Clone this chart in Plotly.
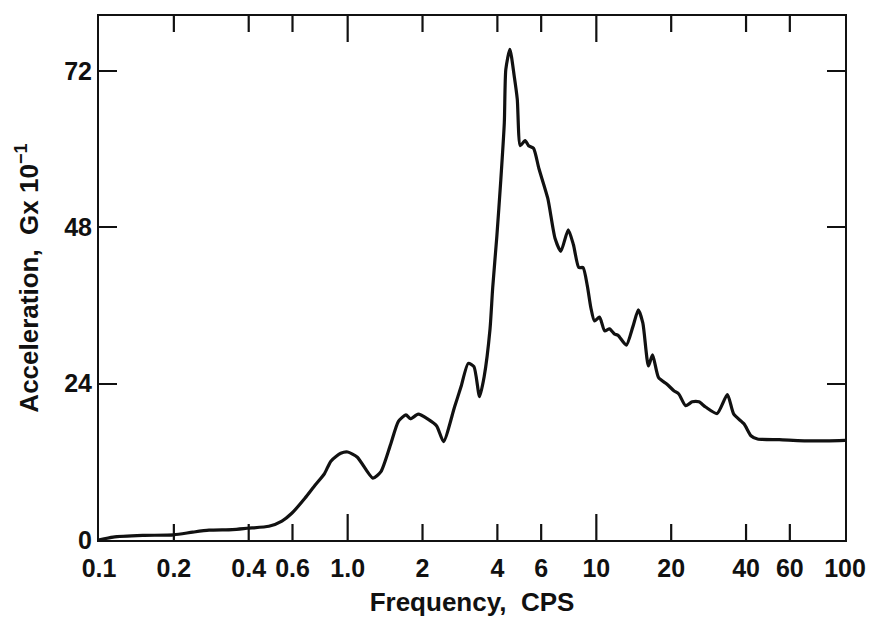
import plotly.graph_objects as go

# Acceleration response spectrum (G x 10^-1) versus frequency (CPS)
frequency = [0.1, 0.114, 0.15, 0.2, 0.238, 0.277, 0.344, 0.394, 0.482, 0.544,
             0.596, 0.673, 0.739, 0.807, 0.856, 0.938, 1.0, 1.094, 1.262, 1.361,
             1.486, 1.60, 1.716, 1.79, 1.922, 2.11, 2.28, 2.43, 2.69, 2.856,
             3.055, 3.22, 3.39, 3.54, 3.735, 3.83, 3.98, 4.13, 4.265, 4.325,
             4.49, 4.674, 4.81, 4.945, 5.17, 5.34, 5.59, 5.875, 6.38, 6.82,
             7.2, 7.71, 8.09, 8.5, 8.84, 9.2, 9.51, 9.83, 10.3, 10.8,
             11.3, 11.85, 12.23, 13.2, 14.02, 14.75, 15.38, 16.2, 16.83, 17.8,
             19.24, 20.5, 21.46, 22.86, 24.3, 25.85, 27.5, 30.6, 33.65, 35.7,
             39.3, 41.85, 44.5, 54.4, 74, 100]
acceleration = [0.0, 0.45, 0.7, 0.8, 1.2, 1.5, 1.6, 1.8, 2.1, 2.9,
                4.1, 6.4, 8.4, 10.2, 12.1, 13.3, 13.5, 12.7, 9.5, 10.5,
                14.6, 18.2, 19.2, 18.6, 19.3, 18.5, 17.5, 15.1, 20.4, 23.5,
                27.1, 26.6, 22.0, 25.1, 32.3, 38.7, 46.6, 55.3, 64.0, 72.2,
                75.3, 71.2, 67.6, 60.5, 61.3, 60.5, 60.1, 57.0, 52.4, 46.3,
                44.3, 47.6, 45.3, 41.8, 41.8, 39.0, 35.6, 33.6, 34.2, 32.1,
                32.4, 31.6, 31.4, 29.9, 32.7, 35.3, 33.3, 26.7, 28.4, 24.9,
                23.9, 22.9, 22.4, 20.6, 21.2, 21.2, 20.4, 19.4, 22.3, 19.3,
                17.8, 16.0, 15.5, 15.4, 15.2, 15.3]

x_tick_vals = [0.1, 0.2, 0.4, 0.6, 1.0, 2, 4, 6, 10, 20, 40, 60, 100]
x_tick_text = ["0.1", "0.2", "0.4", "0.6", "1.0", "2", "4", "6", "10", "20", "40", "60", "100"]
x_long_ticks = [1.0, 10]
y_tick_vals = [0, 24, 48, 72]

FONT = "Liberation Sans, Arial, sans-serif"
INK = "#111111"
Y_MAX = 80.4
PLOT_H = 629 - 16 - 89            # plot-area height in px
UNITS_PER_PX = Y_MAX / PLOT_H

fig = go.Figure()
fig.add_trace(go.Scatter(
    x=frequency, y=acceleration, mode="lines",
    line=dict(color=INK, width=3.2, shape="spline", smoothing=0.6),
    hoverinfo="x+y", showlegend=False,
))

# inward tick marks on the bottom and top frame edges (decades 1 and 10 longer)
tx, ty = [], []
for v in x_tick_vals[1:-1]:
    h = (26 if v in x_long_ticks else 16) * UNITS_PER_PX
    tx += [v, v, None, v, v, None]
    ty += [0, h, None, Y_MAX, Y_MAX - h, None]
fig.add_trace(go.Scatter(
    x=tx, y=ty, mode="lines", line=dict(color=INK, width=2.2),
    hoverinfo="skip", showlegend=False, connectgaps=False,
))

tick_font = dict(family=FONT, size=25, color=INK, weight="bold")

fig.update_layout(
    width=878, height=629,
    margin=dict(l=99, r=30, t=16, b=89),
    paper_bgcolor="white", plot_bgcolor="white",
    xaxis=dict(
        type="log", range=[-1, 2],
        tickmode="array", tickvals=x_tick_vals, ticktext=x_tick_text,
        ticks="", showline=True, linewidth=2, linecolor=INK, mirror=True,
        showgrid=False, zeroline=False,
        tickfont=tick_font, ticklabelstandoff=5,
        title=dict(text="Frequency,  CPS", standoff=12,
                   font=dict(family=FONT, size=26, color=INK, weight="bold")),
    ),
    yaxis=dict(
        range=[0, Y_MAX],
        tickmode="array", tickvals=y_tick_vals,
        ticks="inside", ticklen=18, tickwidth=2, tickcolor=INK,
        showline=True, linewidth=2, linecolor=INK, mirror="ticks",
        showgrid=False, zeroline=False,
        tickfont=tick_font, ticklabelstandoff=0,
        title=dict(text="Acceleration,  Gx 10<sup>−1</sup>", standoff=18,
                   font=dict(family=FONT, size=26, color=INK, weight="bold")),
    ),
)

fig.write_html("out.html")
